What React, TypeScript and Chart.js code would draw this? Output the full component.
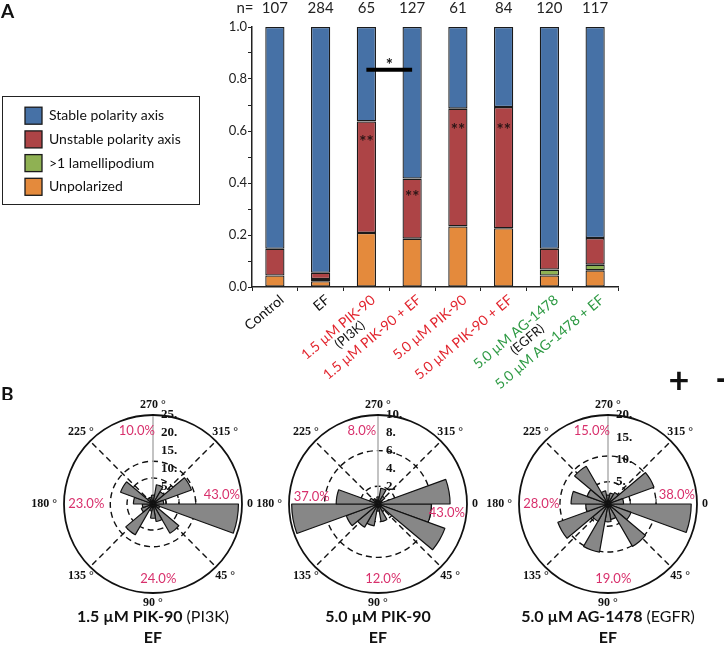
import React, { useEffect, useRef } from "react";
import { Chart, registerables } from "chart.js";
Chart.register(...registerables);

const FONT = "Lato, 'Open Sans', sans-serif";
const SERIF = "'Liberation Serif', 'DejaVu Serif', serif";
const PIK_RED = "#e2262f";
const AG_GREEN = "#2e9a44";
const PINK = "#d8306c";

// ---------- Panel A data ----------
const categories = [
  "Control",
  "EF",
  "1.5 µM PIK-90",
  "1.5 µM PIK-90 + EF",
  "5.0 µM PIK-90",
  "5.0 µM PIK-90 + EF",
  "5.0 µM AG-1478",
  "5.0 µM AG-1478 + EF",
];
const categorySubLabels = ["", "", "(PI3K)", "", "", "", "(EGFR)", ""];
const categoryColors = ["#111", "#111", PIK_RED, PIK_RED, PIK_RED, PIK_RED, AG_GREEN, AG_GREEN];
const nCounts = [107, 284, 65, 127, 61, 84, 120, 117];
const unpolarized = [0.044, 0.022, 0.208, 0.186, 0.233, 0.226, 0.044, 0.064];
const lamellipodium = [0.0, 0.009, 0.0, 0.0, 0.0, 0.0, 0.023, 0.022];
const unstableAxis = [0.103, 0.024, 0.429, 0.231, 0.453, 0.466, 0.08, 0.102];
const stableAxis = [0.853, 0.945, 0.363, 0.583, 0.314, 0.308, 0.853, 0.812];
const doubleStarValues = [null, null, 0.575, 0.365, 0.622, 0.622, null, null];
const bracketFrom = 2;
const bracketTo = 3;
const bracketValue = 0.836;

// ---------- Panel B data ----------
const roseBinLabels = [
  "0-20°", "20-40°", "40-60°", "60-80°", "80-100°", "100-120°", "120-140°", "140-160°", "160-180°",
  "180-200°", "200-220°", "220-240°", "240-260°", "260-280°", "280-300°", "300-320°", "320-340°", "340-360°",
];
const rose1Counts = [24, 2, 9.5, 5, 4, 2, 10, 3.5, 3, 5.5, 9.7, 2, 2, 2.5, 5.5, 4, 11.5, 3];
const rose2Counts = [6, 8, 1, 2, 0.8, 2.5, 3, 3.8, 9.7, 4.7, 1, 0.7, 0.5, 0.8, 1.8, 1, 0.5, 8.1];
const rose3Counts = [18.7, 5.5, 11, 3.5, 4, 11, 4.5, 12, 5, 8.3, 5, 9.8, 3, 2, 2.5, 3, 11, 3.5];
const rose1Ticks = [0, 5, 10, 15, 20, 25];
const rose2Ticks = [0, 2, 4, 6, 8, 10];
const rose3Ticks = [0, 5, 10, 15, 20];
const rose1Rings = [7.3, 12];
const rose2Rings = [2, 6];
const rose3Rings = [5, 10.8];
// quadrant percentages: right, bottom, left, top
const rose1Pct = ["43.0%", "24.0%", "23.0%", "10.0%"];
const rose2Pct = ["43.0%", "12.0%", "37.0%", "8.0%"];
const rose3Pct = ["38.0%", "19.0%", "28.0%", "15.0%"];

const W = 724;

function BarPanel() {
  const ref = useRef<HTMLCanvasElement>(null);
  useEffect(() => {
    const extras = {
      id: "barExtras",
      afterDraw(chart: any) {
        const { ctx, chartArea } = chart;
        const xs = chart.scales.x;
        const ys = chart.scales.y;
        ctx.save();
        // panel letters and +/- signs
        ctx.fillStyle = "#111";
        ctx.textBaseline = "middle";
        ctx.textAlign = "left";
        ctx.font = `bold 19px ${FONT}`;
        ctx.fillText("A", 1, 12);
        ctx.fillText("B", 1, 395);
        ctx.font = `bold 36px ${FONT}`;
        ctx.textAlign = "center";
        ctx.fillText("+", 679, 381);
        ctx.fillText("-", 722, 379);

        // n= row
        ctx.font = `15px ${FONT}`;
        ctx.fillStyle = "#222";
        ctx.fillText("n=", 245, 8);
        nCounts.forEach((n, i) => ctx.fillText(String(n), xs.getPixelForValue(i), 8));

        // double stars
        ctx.font = `bold 17px ${FONT}`;
        ctx.fillStyle = "#2a1515";
        doubleStarValues.forEach((v, i) => {
          if (v == null) return;
          ctx.fillText("**", xs.getPixelForValue(i), ys.getPixelForValue(v) + 5);
        });

        // significance bracket
        const bx1 = xs.getPixelForValue(bracketFrom);
        const bx2 = xs.getPixelForValue(bracketTo);
        const by = ys.getPixelForValue(bracketValue);
        ctx.strokeStyle = "#000";
        ctx.lineWidth = 4;
        ctx.beginPath();
        ctx.moveTo(bx1, by);
        ctx.lineTo(bx2, by);
        ctx.stroke();
        ctx.fillStyle = "#111";
        ctx.font = `bold 17px ${FONT}`;
        ctx.fillText("*", (bx1 + bx2) / 2, by - 4);

        // rotated category labels
        const yb = chartArea.bottom;
        categories.forEach((c, i) => {
          const x = xs.getPixelForValue(i);
          ctx.save();
          ctx.translate(x + 7, yb + 11);
          ctx.rotate((-40 * Math.PI) / 180);
          ctx.font = `14px ${FONT}`;
          ctx.fillStyle = categoryColors[i];
          ctx.textAlign = "right";
          ctx.textBaseline = "middle";
          ctx.fillText(c, 0, 0);
          const w1 = ctx.measureText(c).width;
          if (categorySubLabels[i]) {
            ctx.font = `13px ${FONT}`;
            ctx.fillStyle = "#111";
            ctx.textAlign = "center";
            ctx.fillText(categorySubLabels[i], -w1 / 2 + 4, 13);
          }
          ctx.restore();
        });

        // legend box
        ctx.strokeStyle = "#222";
        ctx.lineWidth = 1;
        ctx.strokeRect(2.5, 96.5, 197, 108);
        const ds = chart.data.datasets.slice().reverse();
        ds.forEach((d: any, i: number) => {
          const cy = 115.7 + i * 23.7;
          ctx.fillStyle = d.backgroundColor;
          ctx.fillRect(25, cy - 8.5, 17, 17);
          ctx.strokeStyle = "#1a1a1a";
          ctx.lineWidth = 1.3;
          ctx.strokeRect(25, cy - 8.5, 17, 17);
          ctx.fillStyle = "#111";
          ctx.font = `14px ${FONT}`;
          ctx.textAlign = "left";
          ctx.textBaseline = "middle";
          ctx.fillText(d.label, 49, cy);
        });
        ctx.restore();
      },
    };

    const common = {
      borderColor: "#1a1a1a",
      borderWidth: 1.3,
      borderSkipped: false,
      barPercentage: 0.42,
      categoryPercentage: 1,
    };
    const chart = new Chart(ref.current as HTMLCanvasElement, {
      type: "bar",
      data: {
        labels: categories,
        datasets: [
          { label: "Unpolarized", data: unpolarized, backgroundColor: "#e48a3c", ...common },
          { label: ">1 lamellipodium", data: lamellipodium, backgroundColor: "#8fb153", ...common },
          { label: "Unstable polarity axis", data: unstableAxis, backgroundColor: "#ad4446", ...common },
          { label: "Stable polarity axis", data: stableAxis, backgroundColor: "#4671a6", ...common },
        ],
      },
      options: {
        animation: false,
        responsive: false,
        maintainAspectRatio: false,
        layout: { padding: { left: 212, right: 106, top: 27, bottom: 0 } },
        plugins: { legend: { display: false }, tooltip: { enabled: false } },
        scales: {
          x: {
            stacked: true,
            offset: true,
            grid: { display: true, drawOnChartArea: false, drawTicks: true, tickLength: 4, color: "#222", offset: true },
            border: { display: true, color: "#222", width: 1.5 },
            ticks: { display: false },
            afterFit: (s: any) => {
              s.height = 113;
            },
          },
          y: {
            stacked: true,
            min: 0,
            max: 1,
            ticks: {
              stepSize: 0.1,
              autoSkip: false,
              padding: 1,
              color: "#222",
              font: { family: FONT, size: 13 },
              callback: (v: any) => (Math.round(Number(v) * 10) % 2 === 0 ? Number(v).toFixed(1) : ""),
            },
            grid: { display: true, drawOnChartArea: false, tickLength: 4, color: "#222" },
            border: { display: true, color: "#222", width: 1.5 },
            afterFit: (s: any) => {
              s.width = 40;
            },
          },
        },
      } as any,
      plugins: [extras],
    });
    return () => chart.destroy();
  }, []);
  return <canvas ref={ref} width={W} height={400} style={{ position: "absolute", left: 0, top: 0 }} />;
}

type RoseProps = {
  counts: number[];
  rMax: number;
  ticks: number[];
  rings: number[];
  pct: string[];
  titleBold: string;
  titleRegular: string;
  cx: number;
  leftPctAngle: number;
  rightPctAngle: number;
};

function RoseChart(p: RoseProps) {
  const ref = useRef<HTMLCanvasElement>(null);
  useEffect(() => {
    const R = 89;
    const top = 390;
    const H = 260;
    const cy = 504;
    const toRad = (a: number) => (a * Math.PI) / 180;
    const plugin = {
      id: "roseExtras",
      beforeDatasetsDraw(chart: any) {
        const ctx = chart.ctx;
        const s = chart.scales.r;
        const x0 = s.xCenter;
        const y0 = s.yCenter;
        const rad = (v: number) => s.getDistanceFromCenterForValue(v);
        const Rr = rad(p.rMax);
        ctx.save();
        ctx.strokeStyle = "#111";
        ctx.lineWidth = 1.4;
        ctx.setLineDash([6, 4]);
        p.rings.forEach((v) => {
          ctx.beginPath();
          ctx.arc(x0, y0, rad(v), 0, Math.PI * 2);
          ctx.stroke();
        });
        [45, 135, 225, 315].forEach((a) => {
          ctx.beginPath();
          ctx.moveTo(x0, y0);
          ctx.lineTo(x0 + Rr * Math.cos(toRad(a)), y0 + Rr * Math.sin(toRad(a)));
          ctx.stroke();
        });
        ctx.setLineDash([]);
        // grey radial axis
        ctx.strokeStyle = "#b4b4b4";
        ctx.lineWidth = 1.6;
        ctx.beginPath();
        ctx.moveTo(x0, y0);
        ctx.lineTo(x0, y0 - Rr);
        ctx.stroke();
        // small ticks on 0° axis
        ctx.strokeStyle = "#111";
        ctx.lineWidth = 1;
        p.rings.forEach((v) => {
          ctx.beginPath();
          ctx.moveTo(x0 + rad(v), y0);
          ctx.lineTo(x0 + rad(v), y0 - 5);
          ctx.stroke();
        });
        // radial tick labels
        ctx.fillStyle = "#111";
        ctx.font = `bold 13px ${SERIF}`;
        ctx.textAlign = "left";
        ctx.textBaseline = "middle";
        p.ticks.forEach((v) => ctx.fillText(`${v}.`, x0 + 8, y0 - rad(v)));
        ctx.restore();
      },
      afterDatasetsDraw(chart: any) {
        const ctx = chart.ctx;
        const s = chart.scales.r;
        const x0 = s.xCenter;
        const y0 = s.yCenter;
        const Rr = s.getDistanceFromCenterForValue(p.rMax);
        ctx.save();
        ctx.strokeStyle = "#111";
        ctx.lineWidth = 1.8;
        ctx.beginPath();
        ctx.arc(x0, y0, Rr, 0, Math.PI * 2);
        ctx.stroke();

        // angle labels
        ctx.fillStyle = "#111";
        ctx.font = `bold 12px ${SERIF}`;
        ctx.textBaseline = "middle";
        ctx.textAlign = "left";
        ctx.fillText("0", x0 + Rr + 5, y0);
        ctx.textAlign = "right";
        ctx.fillText("180 °", x0 - Rr - 7, y0);
        ctx.textAlign = "center";
        ctx.fillText("90 °", x0, y0 + Rr + 10);
        ctx.fillText("270 °", x0, y0 - Rr - 10);
        [
          [45, "45 °"],
          [135, "135 °"],
          [225, "225 °"],
          [315, "315 °"],
        ].forEach(([a, t]) => {
          const d = Rr + 13;
          ctx.fillText(t as string, x0 + d * Math.cos(toRad(a as number)), y0 + d * Math.sin(toRad(a as number)));
        });

        // quadrant percentages
        ctx.fillStyle = PINK;
        ctx.font = `13px ${FONT}`;
        const spots: [number, number][] = [
          [p.rightPctAngle, 0.78],
          [86, 0.845],
          [p.leftPctAngle, 0.75],
          [257.5, 0.84],
        ];
        spots.forEach(([a, f], i) => {
          ctx.fillText(p.pct[i], x0 + f * Rr * Math.cos(toRad(a)), y0 + f * Rr * Math.sin(toRad(a)));
        });

        // title
        ctx.fillStyle = "#111";
        ctx.font = `bold 16px ${FONT}`;
        const wb = ctx.measureText(p.titleBold).width;
        ctx.font = `16px ${FONT}`;
        const wr = ctx.measureText(p.titleRegular).width;
        const start = x0 - (wb + wr) / 2;
        ctx.textAlign = "left";
        ctx.font = `bold 16px ${FONT}`;
        ctx.fillText(p.titleBold, start, y0 + 113);
        ctx.font = `16px ${FONT}`;
        ctx.fillText(p.titleRegular, start + wb, y0 + 113);
        ctx.font = `bold 16px ${FONT}`;
        ctx.textAlign = "center";
        ctx.fillText("EF", x0, y0 + 134);
        ctx.restore();
      },
    };
    const chart = new Chart(ref.current as HTMLCanvasElement, {
      type: "polarArea",
      data: {
        labels: roseBinLabels,
        datasets: [
          {
            data: p.counts,
            backgroundColor: "#878787",
            borderColor: "#111",
            borderWidth: 1.2,
          },
        ],
      },
      options: {
        animation: false,
        responsive: false,
        maintainAspectRatio: false,
        layout: {
          padding: { left: p.cx - R, right: W - p.cx - R, top: cy - top - R, bottom: H - (cy - top) - R },
        },
        scales: {
          r: {
            min: 0,
            max: p.rMax,
            startAngle: 90,
            ticks: { display: false },
            grid: { display: false },
            angleLines: { display: false },
            pointLabels: { display: false },
          },
        },
        plugins: { legend: { display: false }, tooltip: { enabled: false } },
      } as any,
      plugins: [plugin],
    });
    return () => chart.destroy();
  }, []);
  return <canvas ref={ref} width={W} height={260} style={{ position: "absolute", left: 0, top: 390 }} />;
}

export default function App() {
  return (
    <div style={{ position: "absolute", left: 0, top: 0, width: W, height: 650, background: "#fff", overflow: "hidden" }}>
      <BarPanel />
      <RoseChart
        counts={rose1Counts}
        rMax={25}
        ticks={rose1Ticks}
        rings={rose1Rings}
        pct={rose1Pct}
        titleBold="1.5 µM PIK-90"
        titleRegular=" (PI3K)"
        cx={153}
        leftPctAngle={180.5}
        rightPctAngle={352.5}
      />
      <RoseChart
        counts={rose2Counts}
        rMax={10}
        ticks={rose2Ticks}
        rings={rose2Rings}
        pct={rose2Pct}
        titleBold="5.0 µM PIK-90"
        titleRegular=""
        cx={378}
        leftPctAngle={186.5}
        rightPctAngle={7.3}
      />
      <RoseChart
        counts={rose3Counts}
        rMax={20}
        ticks={rose3Ticks}
        rings={rose3Rings}
        pct={rose3Pct}
        titleBold="5.0 µM AG-1478"
        titleRegular=" (EGFR)"
        cx={608}
        leftPctAngle={180.5}
        rightPctAngle={352.5}
      />
    </div>
  );
}
